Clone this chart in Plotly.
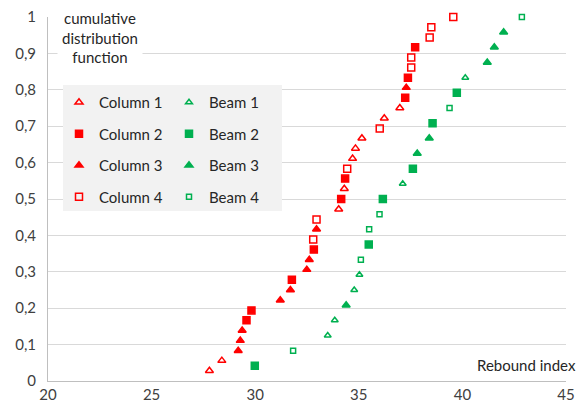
import plotly.graph_objects as go

# ---- data ----
col1_x = [27.79, 28.39, 34.03, 34.30, 34.70, 34.84, 35.15, 36.23, 36.98]
col1_y = [0.028, 0.056, 0.472, 0.528, 0.611, 0.639, 0.667, 0.722, 0.750]
col2_x = [29.58, 29.82, 31.77, 32.83, 34.15, 34.34, 37.24, 37.37, 37.72]
col2_y = [0.167, 0.194, 0.278, 0.361, 0.500, 0.556, 0.778, 0.833, 0.917]
col3_x = [29.18, 29.28, 29.37, 31.21, 31.70, 32.49, 32.61, 32.96, 37.29]
col3_y = [0.083, 0.111, 0.139, 0.222, 0.250, 0.306, 0.333, 0.417, 0.806]
col4_x = [32.80, 32.96, 34.44, 36.01, 37.53, 37.53, 38.42, 38.50, 39.56]
col4_y = [0.389, 0.444, 0.583, 0.694, 0.861, 0.889, 0.944, 0.972, 1.000]

beam1_x = [33.50, 33.84, 34.78, 35.03, 37.12, 40.14]
beam1_y = [0.125, 0.167, 0.250, 0.292, 0.542, 0.833]
beam2_x = [29.98, 35.48, 36.16, 37.61, 38.56, 39.73]
beam2_y = [0.042, 0.375, 0.500, 0.583, 0.708, 0.792]
beam3_x = [34.39, 37.82, 38.40, 41.20, 41.54, 41.99]
beam3_y = [0.208, 0.625, 0.667, 0.875, 0.917, 0.958]
beam4_x = [31.83, 35.10, 35.50, 36.00, 39.38, 42.87]
beam4_y = [0.083, 0.333, 0.417, 0.458, 0.750, 1.000]

x_ticks = [20, 25, 30, 35, 40, 45]

RED = "#ff0000"
GREEN = "#00b050"
FONT = "Lato"
TXT = "#262626"

W, H = 584, 406
ML, MR, MT, MB = 48, 18, 17, 25
PW, PH = W - ML - MR, H - MT - MB


def px2paper_x(px):
    return (px - ML) / PW


def px2paper_y(py):
    return 1 - (py - MT) / PH


fig = go.Figure()

series = [
    ("Column 1", col1_x, col1_y, RED, "triangle-up-open", 7, "legend"),
    ("Beam 1", beam1_x, beam1_y, GREEN, "triangle-up-open", 6, "legend2"),
    ("Column 2", col2_x, col2_y, RED, "square", 7, "legend"),
    ("Beam 2", beam2_x, beam2_y, GREEN, "square", 7, "legend2"),
    ("Column 3", col3_x, col3_y, RED, "triangle-up", 7, "legend"),
    ("Beam 3", beam3_x, beam3_y, GREEN, "triangle-up", 7, "legend2"),
    ("Column 4", col4_x, col4_y, RED, "square-open", 7, "legend"),
    ("Beam 4", beam4_x, beam4_y, GREEN, "square-open", 5, "legend2"),
]

for name, xs, ys, color, sym, size, leg in series:
    fig.add_trace(go.Scatter(
        x=xs, y=ys, mode="markers", name=name, legend=leg, legendgroup=name,
        cliponaxis=False,
        marker=dict(symbol=sym, size=size, color=color,
                    line=dict(color=color, width=1.5)),
    ))

fig.update_layout(
    width=W, height=H,
    margin=dict(l=ML, r=MR, t=MT, b=MB, autoexpand=False),
    paper_bgcolor="white", plot_bgcolor="white",
    separators=", ",
    font=dict(family=FONT, size=15, color=TXT),
    showlegend=True,
    legend=dict(
        x=px2paper_x(59), y=px2paper_y(86), xanchor="left", yanchor="top",
        bgcolor="rgba(0,0,0,0)", borderwidth=0, tracegroupgap=9,
        font=dict(family=FONT, size=15, color=TXT),
    ),
    legend2=dict(
        x=px2paper_x(169), y=px2paper_y(86), xanchor="left", yanchor="top",
        bgcolor="rgba(0,0,0,0)", borderwidth=0, tracegroupgap=9,
        font=dict(family=FONT, size=15, color=TXT),
    ),
    shapes=[dict(
        type="rect", xref="paper", yref="paper", layer="above",
        x0=px2paper_x(63), x1=px2paper_x(282),
        y0=px2paper_y(211), y1=px2paper_y(85),
        fillcolor="#f2f2f2", line=dict(width=0),
    )],
    xaxis=dict(
        range=[20, 45], tickvals=x_ticks, showgrid=False,
        showline=True, linecolor="#bfbfbf", linewidth=1,
        zeroline=False, ticks="", ticklabelstandoff=0,
        tickfont=dict(family=FONT, size=15, color="#404040"),
    ),
    # grid-only overlay axis: vertical gridlines at the inner ticks
    xaxis2=dict(
        overlaying="x", matches="x", side="bottom", range=[20, 45],
        tickvals=x_ticks[1:-1], showticklabels=False, showgrid=True,
        gridcolor="#d9d9d9", gridwidth=1, showline=False, zeroline=False,
        ticks="", layer="below traces",
    ),
    yaxis=dict(
        range=[0, 1], dtick=0.1, showgrid=True, gridcolor="#d9d9d9",
        gridwidth=1, showline=True, linecolor="#bfbfbf", linewidth=1,
        zeroline=False, ticks="", ticklabelstandoff=8,
        tickfont=dict(family=FONT, size=15, color="#404040"),
    ),
    annotations=[
        dict(text="cumulative<br>distribution<br>function", xref="paper", yref="paper",
             x=px2paper_x(100), y=px2paper_y(37), xanchor="center", yanchor="middle",
             showarrow=False, bgcolor="white", borderpad=4,
             font=dict(family=FONT, size=15, color=TXT)),
        dict(text="Rebound index", xref="paper", yref="paper",
             x=px2paper_x(526), y=px2paper_y(365), xanchor="center", yanchor="middle",
             showarrow=False, bgcolor="white", borderpad=1,
             font=dict(family=FONT, size=15, color=TXT)),
    ],
)

fig.write_html(
    "out.html",
    config={"displayModeBar": False},
    post_script="document.body.style.margin='0';document.body.style.overflow='hidden';",
)
